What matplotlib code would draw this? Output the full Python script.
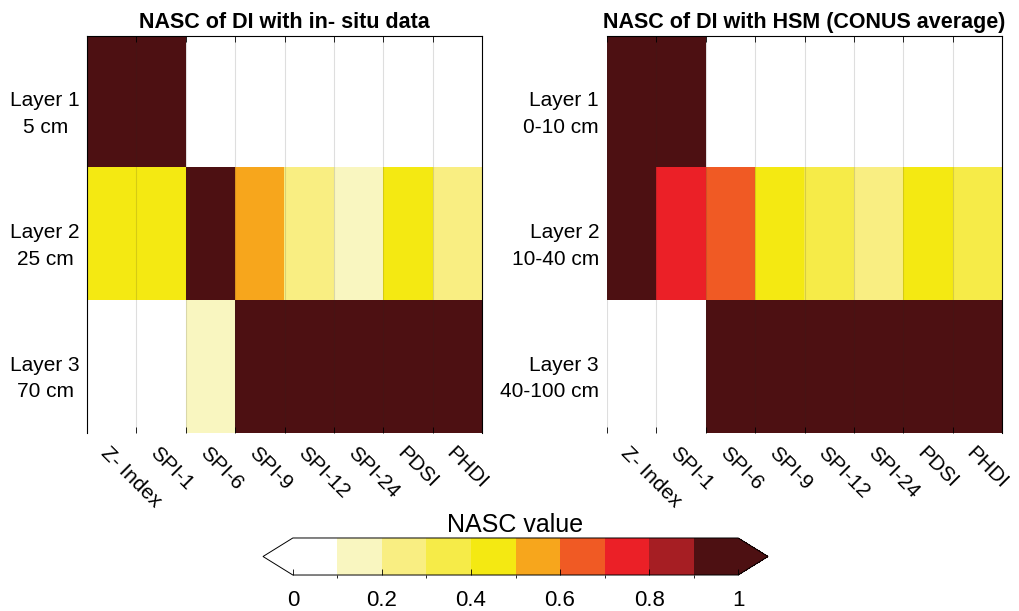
import matplotlib
matplotlib.use("Agg")
import matplotlib.pyplot as plt
import matplotlib.transforms as mtransforms
from matplotlib.colors import ListedColormap, BoundaryNorm
import numpy as np

plt.rcParams['font.family'] = ['Liberation Sans', 'DejaVu Sans']

indices = ['Z- Index', 'SPI-1', 'SPI-6', 'SPI-9', 'SPI-12', 'SPI-24', 'PDSI', 'PHDI']

# NASC values (bin centres)
nasc_insitu = [
    [0.95, 0.95, 0.05, 0.05, 0.05, 0.05, 0.05, 0.05],
    [0.45, 0.45, 0.95, 0.55, 0.25, 0.15, 0.45, 0.25],
    [0.05, 0.05, 0.15, 0.95, 0.95, 0.95, 0.95, 0.95],
]
nasc_hsm = [
    [0.95, 0.95, 0.05, 0.05, 0.05, 0.05, 0.05, 0.05],
    [0.95, 0.75, 0.65, 0.45, 0.35, 0.25, 0.45, 0.35],
    [0.05, 0.05, 0.95, 0.95, 0.95, 0.95, 0.95, 0.95],
]
layers_insitu = ['Layer 1\n5 cm', 'Layer 2\n25 cm', 'Layer 3\n70 cm']
layers_hsm = ['Layer 1\n0-10 cm', 'Layer 2\n10-40 cm', 'Layer 3\n40-100 cm']

titles = ['NASC of DI with in- situ data', 'NASC of DI with HSM (CONUS average)']

levels = np.linspace(0, 1, 11)
colors = ['#FFFFFF', '#F9F6C0', '#F9EE82', '#F6EB48', '#F4E912',
          '#F7A61C', '#F05A24', '#EB2027', '#A61E23', '#4D1012']
cmap = ListedColormap(colors)
cmap.set_under('#FFFFFF')
cmap.set_over('#4D1012')
norm = BoundaryNorm(levels, cmap.N)

fig = plt.figure(figsize=(10.19, 6.11), dpi=100)
ax1 = fig.add_axes([0.0854, 0.2913, 0.3876, 0.6498])
ax2 = fig.add_axes([0.5957, 0.2913, 0.3876, 0.6498])

panels = [(ax1, nasc_insitu, layers_insitu, 'center', -0.106),
          (ax2, nasc_hsm, layers_hsm, 'right', -0.02)]

for k, (ax, vals, labels, ha, xpos) in enumerate(panels):
    data = np.array(vals)
    im = ax.imshow(data, cmap=cmap, norm=norm, aspect='auto', interpolation='nearest')
    # label anchors sit a little left of the cell centres, as in the original
    ax.set_xticks(np.arange(len(indices)) - 0.16)
    ax.set_xticklabels(indices, fontsize=15, rotation=-45, ha='left', va='center',
                       rotation_mode='anchor')
    ax.tick_params(axis='x', which='major', length=0, pad=12)
    ax.set_xticks(np.arange(len(indices) + 1) - 0.5, minor=True)
    ax.tick_params(axis='x', which='minor', direction='in', length=4, top=True,
                   bottom=True, width=0.6)
    ax.grid(True, which='minor', axis='x', color='0.15', alpha=0.15, lw=0.8)
    ax.set_yticks([])
    ax.set_xlim(-0.5, len(indices) - 0.5)
    ax.set_ylim(len(labels) - 0.5, -0.5)
    trans = mtransforms.offset_copy(
        mtransforms.blended_transform_factory(ax.transAxes, ax.transData),
        fig=fig, y=8, units='points')
    for i, lab in enumerate(labels):
        ax.text(xpos, i, lab, transform=trans, ha=ha, va='top', fontsize=15,
                linespacing=1.5, multialignment=ha)
    for s in ax.spines.values():
        s.set_linewidth(0.8)
    ax.spines['bottom'].set_visible(False)
    if k == 1:
        ax.spines['left'].set_visible(False)
    ax.set_title(titles[k], fontsize=15.5, fontweight='bold', pad=6)

cax = fig.add_axes([0.2581, 0.0589, 0.4956, 0.0606])
cb = fig.colorbar(im, cax=cax, orientation='horizontal', extend='both',
                  extendfrac=0.067, ticks=[0, 0.2, 0.4, 0.6, 0.8, 1.0])
cb.ax.set_xticklabels(['0', '0.2', '0.4', '0.6', '0.8', '1'])
cb.ax.tick_params(direction='in', length=4, width=0.6, labelsize=16, pad=11)
cb.outline.set_linewidth(0.7)
cb.ax.set_title('NASC value', fontsize=18, pad=4)

fig.savefig('out.png', dpi=100)
